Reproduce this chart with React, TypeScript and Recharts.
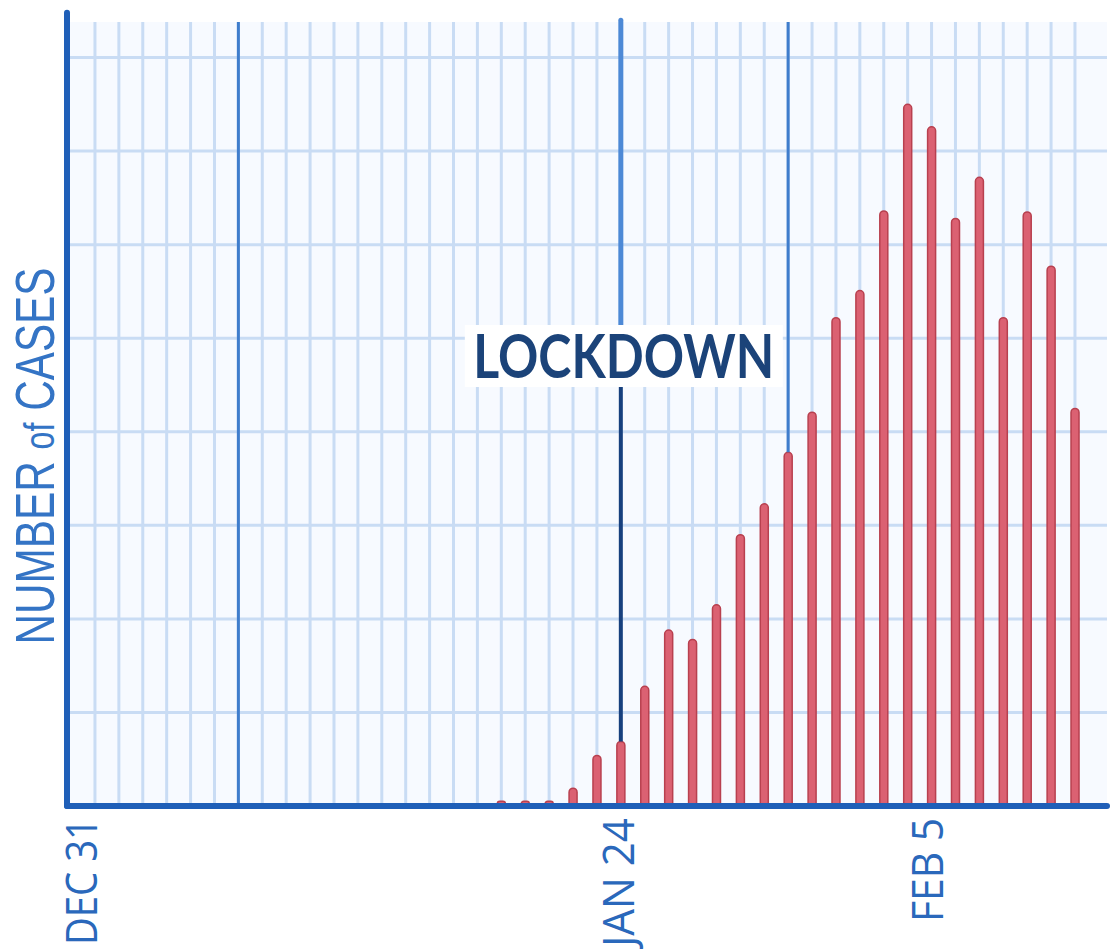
import { Bar, BarChart, CartesianGrid, ReferenceDot, ReferenceLine, XAxis, YAxis } from 'recharts'

// one bar per day, placed on the paper's grid columns
const days = [
  'JAN 19', 'JAN 20', 'JAN 21', 'JAN 22', 'JAN 23', 'JAN 24', 'JAN 25', 'JAN 26', 'JAN 27',
  'JAN 28', 'JAN 29', 'JAN 30', 'JAN 31', 'FEB 1', 'FEB 2', 'FEB 3', 'FEB 4', 'FEB 5',
  'FEB 6', 'FEB 7', 'FEB 8', 'FEB 9', 'FEB 10', 'FEB 11', 'FEB 12',
]
const slots = [17, 18, 19, 20, 21, 22, 23, 24, 25, 26, 27, 28, 29, 30, 31, 32, 33, 34, 35, 36, 37, 38, 39, 40, 41]
const cases = [
  0.5, 0.5, 0.5, 1.9, 5.4, 6.9, 12.8, 18.8, 17.8, 21.5, 29.0, 32.3, 37.8, 42.1, 52.2, 55.1,
  63.6, 75.0, 72.6, 62.8, 67.2, 52.2, 63.5, 57.7, 42.5,
]

const tickSlots = [-0.6, 21.9, 34.8]
const tickLabels = ['DEC 31', 'JAN 24', 'FEB 5']

const gridSlots = Array.from({ length: 42 }, (_, i) => i)
const gridLevels = [10, 20, 30, 40, 50, 60, 70, 80]
const markerSlots = [6, 29]
const lockdownSlot = 22

const data = slots.map((slot, i) => ({ slot, day: days[i], cases: cases[i] }))
const caseAt = (slot: number) => {
  const i = slots.indexOf(slot)
  return i < 0 ? 0 : cases[i]
}

const X_DOMAIN: [number, number] = [-1.17, 42.34]
const Y_TOP = 83.8
const AXIS = '#1f5fb8'
const LABEL_BLUE = '#2a68bb'
const NAVY = '#1b4379'
const labelLength: Record<string, number> = { 'DEC 31': 127, 'JAN 24': 129, 'FEB 5': 104 }

function DateTick(props: any) {
  const { x, y, payload } = props
  const label = tickLabels[tickSlots.indexOf(payload.value)] ?? ''
  return (
    <g transform={`translate(${x},${y}) rotate(-90)`}>
      <text
        x={0}
        y={16}
        textAnchor="end"
        fill={LABEL_BLUE}
        fontFamily="'Open Sans', sans-serif"
        fontSize={44}
        textLength={labelLength[label]}
        lengthAdjust="spacingAndGlyphs"
      >
        {label}
      </text>
    </g>
  )
}

function YTitle(props: any) {
  const vb = props.viewBox || { x: 0, y: 22 }
  const cx = vb.x + 35
  const cy = vb.y + 434
  return (
    <g transform={`translate(${cx},${cy}) rotate(-90)`}>
      <text
        x={0}
        y={19}
        textAnchor="middle"
        fill="#3474c5"
        fontFamily="'Liberation Sans', sans-serif"
        fontSize={55}
        textLength={377}
        lengthAdjust="spacingAndGlyphs"
      >
        NUMBER <tspan fontSize={42}>of</tspan> CASES
      </text>
    </g>
  )
}

function LockdownTag(props: any) {
  const { cx, cy } = props
  return (
    <g>
      <rect x={cx - 156} y={cy - 31} width={318} height={62} fill="#ffffff" />
      <text
        x={cx + 3}
        y={cy + 22}
        textAnchor="middle"
        fill={NAVY}
        fontFamily="Lato, 'Open Sans', sans-serif"
        fontWeight={700}
        fontSize={62}
        textLength={301}
        lengthAdjust="spacingAndGlyphs"
      >
        LOCKDOWN
      </text>
    </g>
  )
}

export default function App() {
  return (
    <div style={{ position: 'absolute', left: 0, top: 0, width: 1112, height: 949, background: '#fff' }}>
      <BarChart width={1112} height={949} data={data} margin={{ top: 22, right: 5, bottom: 0, left: 0 }}>
        <CartesianGrid
          verticalValues={gridSlots}
          horizontalValues={gridLevels}
          stroke="#c9dcf4"
          strokeWidth={3}
          fill="#f7faff"
        />
        <XAxis
          type="number"
          dataKey="slot"
          domain={X_DOMAIN}
          allowDataOverflow
          ticks={tickSlots}
          interval={0}
          height={143}
          tickSize={0}
          tickMargin={12}
          tickLine={false}
          axisLine={{ stroke: AXIS, strokeWidth: 6, strokeLinecap: 'round' }}
          tick={<DateTick />}
        />
        <YAxis
          type="number"
          domain={[0, Y_TOP]}
          allowDataOverflow
          ticks={gridLevels}
          interval={0}
          width={67}
          tick={() => <g />}
          tickLine={false}
          axisLine={false}
          label={{ content: <YTitle /> }}
        />
        {markerSlots.map((s) => (
          <ReferenceLine
            key={s}
            segment={[{ x: s, y: caseAt(s) }, { x: s, y: Y_TOP }]}
            stroke="#3f7dcc"
            strokeWidth={3}
            ifOverflow="visible"
          />
        ))}
        <ReferenceLine
          segment={[{ x: lockdownSlot, y: 51.4 }, { x: lockdownSlot, y: 84 }]}
          stroke="#4d89d6"
          strokeWidth={5}
          strokeLinecap="round"
          ifOverflow="visible"
        />
        <ReferenceLine
          segment={[{ x: lockdownSlot, y: caseAt(lockdownSlot) }, { x: lockdownSlot, y: 44.8 }]}
          stroke="#17407e"
          strokeWidth={4}
          ifOverflow="visible"
        />
        <ReferenceLine
          segment={[{ x: X_DOMAIN[0], y: 0 }, { x: X_DOMAIN[0], y: 84.8 }]}
          stroke={AXIS}
          strokeWidth={6}
          strokeLinecap="round"
          ifOverflow="visible"
        />
        <Bar
          dataKey="cases"
          barSize={8}
          fill="#db6172"
          stroke="#b8404f"
          strokeWidth={1.5}
          radius={[4, 4, 0, 0]}
          isAnimationActive={false}
        />
        <ReferenceDot x={lockdownSlot} y={48.1} r={0} ifOverflow="visible" shape={<LockdownTag />} />
      </BarChart>
    </div>
  )
}
